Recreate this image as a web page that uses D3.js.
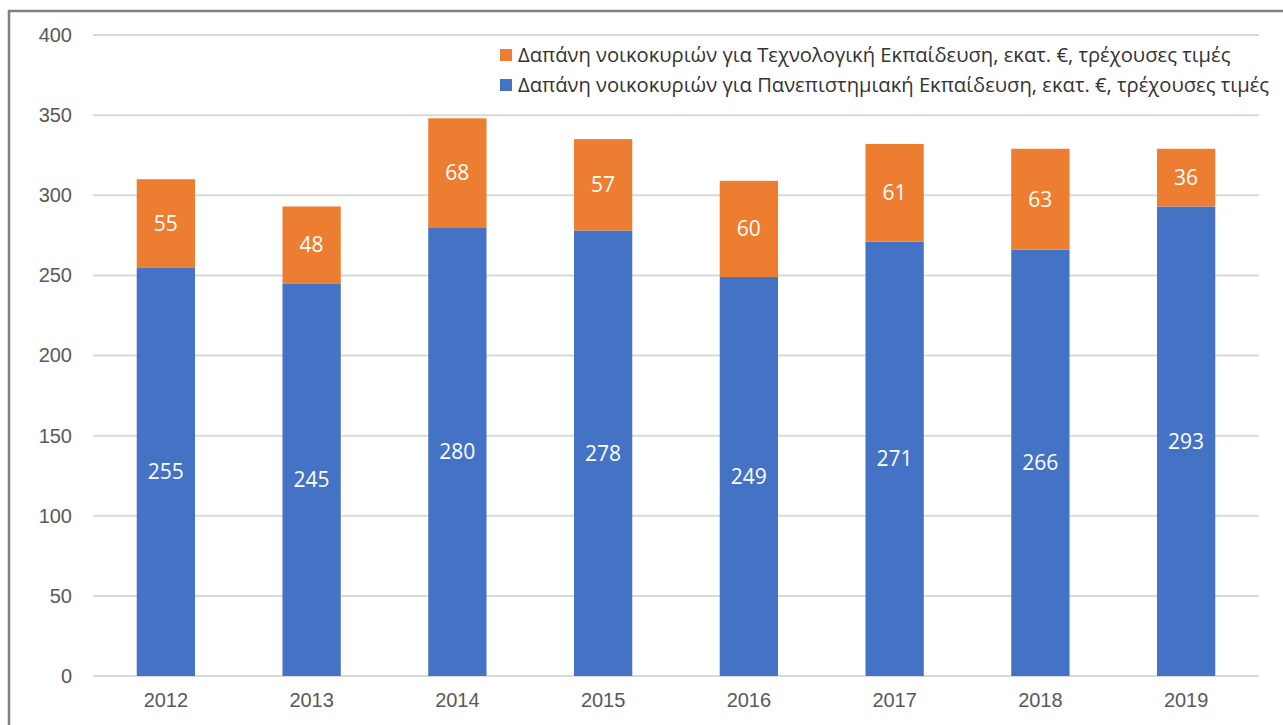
<!DOCTYPE html>
<html>
<head>
<meta charset="utf-8">
<script src="https://cdn.jsdelivr.net/npm/d3@7"></script>
<style>
  body { margin: 0; background: #fff; }
  svg { display: block; font-family: "Open Sans", "Noto Sans", sans-serif; }
</style>
</head>
<body>
<svg id="chart" width="1283" height="725"></svg>
<script>
// chart data
const years = ['2012', '2013', '2014', '2015', '2016', '2017', '2018', '2019'];
const university = [255, 245, 280, 278, 249, 271, 266, 293];
const technological = [55, 48, 68, 57, 60, 61, 63, 36];
const yTicks = [0, 50, 100, 150, 200, 250, 300, 350, 400];
const legendLabels = [
  'Δαπάνη νοικοκυριών για Τεχνολογική Εκπαίδευση, εκατ. €, τρέχουσες τιμές',
  'Δαπάνη νοικοκυριών για Πανεπιστημιακή Εκπαίδευση, εκατ. €, τρέχουσες τιμές'
];

const BLUE = '#4472c4', ORANGE = '#ed7d31';

const svg = d3.select('#chart');

// outer frame
svg.append('rect')
  .attr('x', 9).attr('y', 11)
  .attr('width', 1300).attr('height', 800)
  .attr('fill', 'none')
  .attr('stroke', '#7f7f7f')
  .attr('stroke-width', 2.5);

const plot = { left: 93, right: 1259, top: 35, bottom: 676 };

const x = d3.scaleBand()
  .domain(years)
  .range([plot.left, plot.right])
  .paddingInner(0.6)
  .paddingOuter(0.3);

const y = d3.scaleLinear()
  .domain([0, 400])
  .range([plot.bottom, plot.top]);

// Gridlines
svg.append('g')
  .selectAll('line')
  .data(yTicks)
  .enter()
  .append('line')
  .attr('x1', plot.left)
  .attr('x2', plot.right)
  .attr('y1', d => y(d))
  .attr('y2', d => y(d))
  .attr('stroke', '#d9d9d9')
  .attr('stroke-width', 2);

// Y axis labels
const yAxis = svg.append('g')
  .attr('transform', `translate(${plot.left - 21}, 0)`)
  .call(d3.axisLeft(y).tickValues(yTicks).tickSize(0).tickPadding(0));
yAxis.select('.domain').remove();
yAxis.selectAll('text')
  .attr('fill', '#595959')
  .style('font-size', '20px');

// X axis labels
const xAxis = svg.append('g')
  .attr('transform', `translate(0, ${plot.bottom})`)
  .call(d3.axisBottom(x).tickSize(0).tickPadding(17));
xAxis.select('.domain').remove();
xAxis.selectAll('text')
  .attr('fill', '#595959')
  .style('font-size', '20px');

// stacked data
const rows = years.map((yr, i) => ({
  year: yr,
  uni: university[i],
  tech: technological[i]
}));

// Blue bars (bottom)
svg.selectAll('.bar-uni')
  .data(rows)
  .enter()
  .append('rect')
  .attr('class', 'bar-uni')
  .attr('fill', BLUE)
  .attr('x', d => x(d.year))
  .attr('y', d => y(d.uni))
  .attr('width', x.bandwidth())
  .attr('height', d => y(0) - y(d.uni));

// Orange bars (top)
svg.selectAll('.bar-tech')
  .data(rows)
  .enter()
  .append('rect')
  .attr('class', 'bar-tech')
  .attr('fill', ORANGE)
  .attr('x', d => x(d.year))
  .attr('y', d => y(d.uni + d.tech))
  .attr('width', x.bandwidth())
  .attr('height', d => y(d.uni) - y(d.uni + d.tech));

// Value labels
svg.selectAll('.lbl-uni')
  .data(rows)
  .enter()
  .append('text')
  .attr('x', d => x(d.year) + x.bandwidth() / 2)
  .attr('y', d => y(d.uni / 2))
  .attr('dy', '0.35em')
  .attr('text-anchor', 'middle')
  .attr('fill', '#fff')
  .style('font-size', '21px')
  .text(d => d.uni);

svg.selectAll('.lbl-tech')
  .data(rows)
  .enter()
  .append('text')
  .attr('x', d => x(d.year) + x.bandwidth() / 2)
  .attr('y', d => y(d.uni + d.tech / 2))
  .attr('dy', '0.35em')
  .attr('text-anchor', 'middle')
  .attr('fill', '#fff')
  .style('font-size', '21px')
  .text(d => d.tech);

// Legend
const legend = svg.append('g').attr('transform', 'translate(500, 55)');
legendLabels.forEach((label, i) => {
  const g = legend.append('g').attr('transform', `translate(0, ${i * 30})`);
  g.append('rect')
    .attr('x', 0).attr('y', -6)
    .attr('width', 12).attr('height', 12)
    .attr('fill', i === 0 ? ORANGE : BLUE);
  g.append('text')
    .attr('x', 18)
    .attr('dy', '0.35em')
    .attr('fill', '#333')
    .style('font-size', '20.2px')
    .text(label);
});
</script>
</body>
</html>
